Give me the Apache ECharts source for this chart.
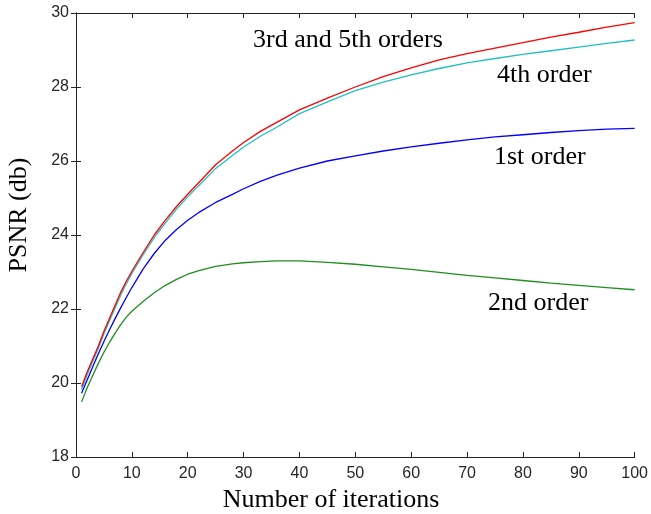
<!DOCTYPE html>
<html>
<head>
<meta charset="utf-8">
<script src="https://cdn.jsdelivr.net/npm/echarts@6/dist/echarts.min.js"></script>
<style>html,body{margin:0;padding:0;background:#fff;}#c{width:651px;height:514px;}</style>
</head>
<body>
<div id="c"></div>
<script>
var iterations = [1,2,3,4,5,6,7,8,9,10,12,14,16,18,20,22,25,28,30,33,36,40,45,50,55,60,65,70,75,80,85,90,95,100];
var order35 = [19.9,20.3,20.65,21.0,21.4,21.75,22.1,22.45,22.75,23.02,23.52,24.0,24.4,24.77,25.1,25.42,25.9,26.27,26.5,26.8,27.05,27.38,27.7,28.0,28.28,28.52,28.73,28.9,29.05,29.2,29.35,29.48,29.62,29.74];
var order4 = [19.82,20.22,20.58,20.94,21.33,21.68,22.03,22.37,22.68,22.96,23.46,23.93,24.33,24.7,25.03,25.34,25.8,26.15,26.38,26.67,26.92,27.28,27.6,27.9,28.13,28.33,28.5,28.65,28.77,28.88,28.98,29.08,29.18,29.27];
var order1 = [19.72,20.08,20.44,20.79,21.12,21.44,21.74,22.03,22.31,22.58,23.08,23.5,23.86,24.15,24.4,24.61,24.88,25.1,25.25,25.45,25.62,25.81,26.0,26.14,26.27,26.38,26.48,26.57,26.65,26.71,26.77,26.82,26.86,26.88];
var order2 = [19.49,19.87,20.2,20.53,20.83,21.1,21.35,21.58,21.78,21.94,22.2,22.44,22.64,22.8,22.94,23.04,23.15,23.22,23.25,23.28,23.3,23.3,23.26,23.21,23.14,23.07,22.99,22.91,22.84,22.77,22.7,22.64,22.58,22.52];
var xTitle = 'Number of iterations';
var yTitle = 'PSNR (db)';
var labels = [
  {text: '3rd and 5th orders', x: 253, y: 40},
  {text: '4th order', x: 497, y: 75},
  {text: '1st order', x: 494, y: 157},
  {text: '2nd order', x: 488, y: 303}
];

function pairs(ys){ return iterations.map(function(x,i){ return [x, ys[i]]; }); }

var chart = echarts.init(document.getElementById('c'), null, {renderer: 'canvas'});
var axisLine = {show: true, lineStyle: {color: '#262626', width: 1}};
var tickLab = {color: '#262626', fontFamily: 'Liberation Sans', fontSize: 16};
function mkSeries(name, ys, color){
  return {name: name, type: 'line', data: pairs(ys), showSymbol: false, symbol: 'none',
    lineStyle: {color: color, width: 1.3}, itemStyle: {color: color}, animation: false, z: 3};
}
chart.setOption({
  animation: false,
  backgroundColor: '#ffffff',
  grid: {left: 76, right: 12, top: 13, bottom: 57, containLabel: false},
  xAxis: [
    {type: 'value', min: 0, max: 100, interval: 10, position: 'bottom',
     axisLine: axisLine, axisTick: {show: true, inside: true, length: 5, lineStyle: {color: '#262626'}},
     axisLabel: Object.assign({margin: 9}, tickLab), splitLine: {show: false}},
    {type: 'value', min: 0, max: 100, interval: 10, position: 'top',
     axisLine: axisLine, axisTick: {show: true, inside: true, length: 5, lineStyle: {color: '#262626'}},
     axisLabel: {show: false}, splitLine: {show: false}}
  ],
  yAxis: [
    {type: 'value', min: 18, max: 30, interval: 2, position: 'left',
     axisLine: axisLine, axisTick: {show: true, inside: true, length: 5, lineStyle: {color: '#262626'}},
     axisLabel: Object.assign({margin: 7}, tickLab), splitLine: {show: false}},
    {type: 'value', min: 18, max: 30, interval: 2, position: 'right',
     axisLine: axisLine, axisTick: {show: true, inside: true, length: 5, lineStyle: {color: '#262626'}},
     axisLabel: {show: false}, splitLine: {show: false}}
  ],
  series: [
    mkSeries('2nd order', order2, '#1e8f1e'),
    mkSeries('1st order', order1, '#0000ff'),
    mkSeries('4th order', order4, '#20c0c0'),
    mkSeries('3rd and 5th orders', order35, '#ff0000')
  ],
  graphic: [
    {type: 'text', x: 331, y: 500, style: {text: xTitle, font: '26px "Liberation Serif"', fill: '#000', align: 'center', verticalAlign: 'middle'}},
    {type: 'text', x: 19, y: 215, rotation: Math.PI/2, style: {text: yTitle, font: '26px "Liberation Serif"', fill: '#000', align: 'center', verticalAlign: 'middle'}}
  ].concat(labels.map(function(l){
    return {type: 'text', x: l.x, y: l.y, style: {text: l.text, font: '26px "Liberation Serif"', fill: '#000', align: 'left', verticalAlign: 'middle'}};
  }))
});
</script>
</body>
</html>
